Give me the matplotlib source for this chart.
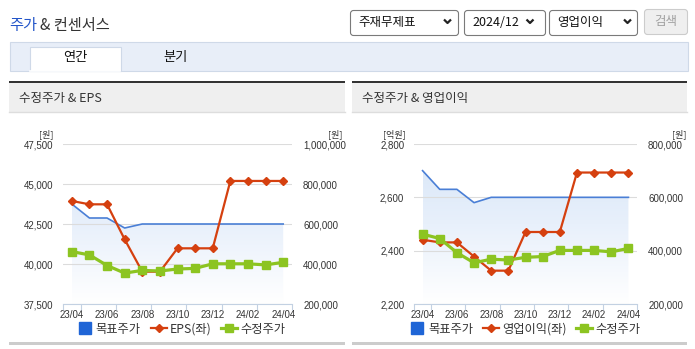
import numpy as np
import matplotlib.pyplot as plt
from matplotlib.patches import Rectangle, FancyBboxPatch
from matplotlib.lines import Line2D
from matplotlib.colors import LinearSegmentedColormap
from matplotlib.ticker import FuncFormatter

plt.rcParams['font.family'] = ['Noto Sans CJK KR', 'DejaVu Sans']

W, H = 695, 349

# monthly data, 2023/04 - 2024/04
months = ['23/04', '23/05', '23/06', '23/07', '23/08', '23/09', '23/10',
          '23/11', '23/12', '24/01', '24/02', '24/03', '24/04']
target_price = [700000, 630000, 630000, 580000, 600000, 600000, 600000,
                600000, 600000, 600000, 600000, 600000, 600000]
adj_price = [462000, 445500, 392500, 354500, 368000, 365000, 375000,
             378000, 401000, 401000, 401000, 395500, 408500]
eps = [43940, 43730, 43730, 41540, 39520, 39520, 40980,
       40980, 40980, 45190, 45190, 45190, 45190]
op_profit = [2441, 2431, 2431, 2378, 2325, 2325, 2470,
             2470, 2470, 2693, 2693, 2693, 2693]

eps_ticks = [37500, 40000, 42500, 45000, 47500]
op_ticks = [2200, 2400, 2600, 2800]
price_ticks_eps = [200000, 400000, 600000, 800000, 1000000]
price_ticks_op = [200000, 400000, 600000, 800000]

RED = '#d5400f'
GREEN = '#8cc421'
BLUE = '#4a7fd6'
LEGEND_BLUE = '#1f65d6'
AXIS_C = '#c3d1e2'
TXT = '#333333'
NUM_FONT = ['Liberation Sans Narrow', 'Liberation Sans', 'DejaVu Sans']
FADE = LinearSegmentedColormap.from_list('fade', ['#ffffff', '#e8f0fb', '#d6e5f7'])

fig = plt.figure(figsize=(W / 100, H / 100), dpi=100)

# page furniture in pixel units
page = fig.add_axes([0, 0, 1, 1])
page.set_xlim(0, W)
page.set_ylim(H, 0)
page.axis('off')


def box(x0, y0, x1, y1, fc, ec='none', lw=1.0, r=0):
    if r:
        p = FancyBboxPatch((x0, y0), x1 - x0, y1 - y0,
                           boxstyle=f'round,pad=0,rounding_size={r}',
                           fc=fc, ec=ec, lw=lw)
    else:
        p = Rectangle((x0, y0), x1 - x0, y1 - y0, fc=fc, ec=ec, lw=lw)
    page.add_patch(p)


def chevron(x, y):
    page.plot([x - 3.5, x, x + 3.5], [y - 2, y + 1.5, y - 2],
              color='#222222', lw=1.6, solid_capstyle='butt')


# header
page.text(9, 25.5, '주가', color='#2355c9', fontsize=11, va='center')
page.text(40, 25.5, '& 컨센서스', color=TXT, fontsize=11, va='center')

box(350.5, 10.5, 458.5, 35.5, 'white', '#7a7a7a', 0.8, r=3)
page.text(358, 22.5, '주재무제표', color='#111111', fontsize=9, va='center')
chevron(447.5, 21.5)
box(464.5, 10.5, 545.5, 35.5, 'white', '#7a7a7a', 0.8, r=3)
page.text(472, 22.5, '2024/12', color='#111111', fontsize=9, va='center')
chevron(530, 21.5)
box(549.5, 10.5, 637.5, 35.5, 'white', '#7a7a7a', 0.8, r=3)
page.text(557, 22.5, '영업이익', color='#111111', fontsize=9, va='center')
chevron(627.5, 21.5)
box(644.5, 9.5, 687.5, 34.5, '#efefef', '#cccccc', 0.8, r=3)
page.text(666, 22, '검색', color='#a0a0a0', fontsize=9, va='center', ha='center')

# tabs
box(9.5, 41.5, 687.5, 70.5, '#e8eef8', '#cfd9e8', 0.8)
box(29.5, 46.5, 120.5, 71, 'white', '#cfd9e8', 0.8)
page.plot([30, 120], [70.5, 70.5], color='white', lw=1.2)
page.text(75, 58, '연간', color='#111111', fontsize=9.5, ha='center', va='center')
page.text(176, 58, '분기', color='#111111', fontsize=9.5, ha='center', va='center')

# panel frames
panels = [(9, 345, '수정주가 & EPS'), (352, 687, '수정주가 & 영업이익')]
for px0, px1, name in panels:
    box(px0, 83, px1, 112, '#efefef')
    box(px0, 80.5, px1, 83, '#333333')
    page.plot([px0, px1], [112, 112], color='#dddddd', lw=1)
    page.text(px0 + 10, 98.5, name, color=TXT, fontsize=9, va='center')
    box(px0, 342, px1, 345, '#cccccc')


def comma(v, pos):
    return f'{v:,.0f}'


def chart(x0, x1, left_vals, left_ticks, price_ticks, left_name,
          left_unit, unit_l_x, unit_r_x, legend_cx):
    xs = np.arange(len(months))
    lo, hi = price_ticks[0], price_ticks[-1]

    ax = fig.add_axes([x0 / W, 1 - 304 / H, (x1 - x0) / W, 160 / H])
    ax_left = ax.twinx()
    ax_top = ax.twinx()

    # target price with a fading fill underneath
    band = ax.fill_between(xs, target_price, lo, facecolor='none',
                           edgecolor='none')
    grad = np.linspace(1, 0, 256).reshape(-1, 1)
    im = ax.imshow(grad, extent=[xs[0], xs[-1], lo, hi], origin='upper',
                   aspect='auto', cmap=FADE, vmin=0, vmax=1, zorder=0.5)
    im.set_clip_path(band.get_paths()[0], transform=ax.transData)
    ax.plot(xs, target_price, color=BLUE, lw=1.2, zorder=2)

    ax_left.plot(xs, left_vals, color=RED, lw=1.6, marker='D', ms=4.5,
                 mec=RED, mfc=RED)
    ax_top.plot(xs, adj_price, color=GREEN, lw=2.3, marker='s', ms=5.7,
                mec=GREEN, mfc=GREEN)

    ax.set_xlim(-0.5, len(months) - 0.5)
    ax.set_ylim(lo, hi)
    ax_top.set_ylim(lo, hi)
    ax_left.set_ylim(left_ticks[0], left_ticks[-1])

    ax.patch.set_visible(False)
    for a in (ax, ax_left, ax_top):
        for s in a.spines.values():
            s.set_visible(False)
    ax.spines['bottom'].set_visible(True)
    ax.spines['bottom'].set_color(AXIS_C)

    ax.yaxis.tick_right()
    ax.set_yticks(price_ticks)
    ax.yaxis.set_major_formatter(FuncFormatter(comma))
    ax.tick_params(axis='y', length=0, pad=8, labelsize=7,
                   labelcolor=TXT, labelfontfamily=NUM_FONT)
    ax.grid(axis='y', color='#dcdcdc', lw=0.8)

    ax_left.yaxis.tick_left()
    ax_left.set_yticks(left_ticks)
    ax_left.yaxis.set_major_formatter(FuncFormatter(comma))
    ax_left.tick_params(axis='y', length=0, pad=7, labelsize=7,
                        labelcolor=TXT, labelfontfamily=NUM_FONT)
    ax_top.yaxis.set_visible(False)

    ax.set_xticks(xs[::2])
    ax.set_xticklabels(months[::2])
    ax.set_xticks([-0.5] + list(np.arange(0.5, len(months), 2)), minor=True)
    ax.tick_params(axis='x', which='major', length=0, pad=4.5,
                   labelsize=7, labelcolor=TXT, labelfontfamily=NUM_FONT)
    ax.tick_params(axis='x', which='minor', length=4, width=0.8,
                   color=AXIS_C)

    page.text(unit_l_x, 134, left_unit, color=TXT, fontsize=6.5,
              ha='center', va='center')
    page.text(unit_r_x, 134, '[원]', color=TXT, fontsize=6.5,
              ha='center', va='center')

    handles = [
        Line2D([], [], ls='none', marker='s', ms=8, mfc=LEGEND_BLUE,
               mec=LEGEND_BLUE),
        Line2D([], [], color=RED, lw=1.6, marker='D', ms=4.5, mfc=RED,
               mec=RED),
        Line2D([], [], color=GREEN, lw=2.3, marker='s', ms=5.7, mfc=GREEN,
               mec=GREEN),
    ]
    fig.legend(handles, ['목표주가', left_name, '수정주가'], loc='center',
               bbox_to_anchor=(legend_cx / W, 1 - 329 / H), ncol=3,
               frameon=False, fontsize=8.8, handlelength=1.3,
               handletextpad=0.25, columnspacing=0.8, labelcolor=TXT,
               borderaxespad=0, borderpad=0)


chart(63, 292, eps, eps_ticks, price_ticks_eps, 'EPS(좌)', '[원]', 46, 335,
      181)
chart(414, 637, op_profit, op_ticks, price_ticks_op, '영업이익(좌)', '[억원]',
      394, 679, 524.5)

fig.savefig('out.png', dpi=100)
